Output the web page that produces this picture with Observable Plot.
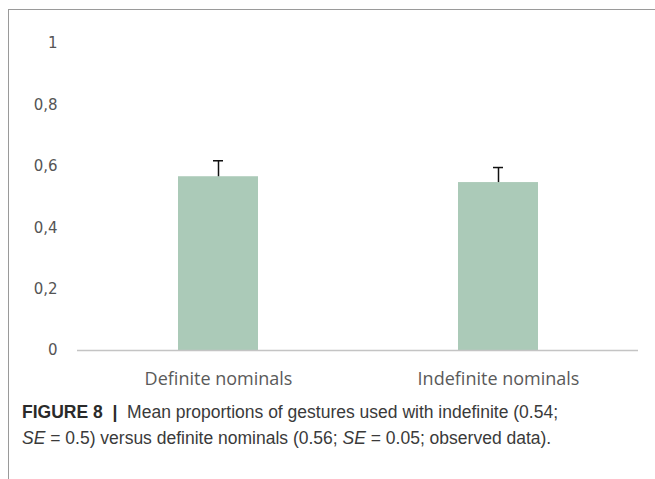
<!DOCTYPE html>
<html>
<head>
<meta charset="utf-8">
<script src="https://cdn.jsdelivr.net/npm/d3@7"></script>
<script src="https://cdn.jsdelivr.net/npm/@observablehq/plot@0.6"></script>
<style>
  html, body { margin: 0; padding: 0; background: #fff; }
  #wrap { position: relative; width: 655px; height: 479px; overflow: hidden; }
  #frame { position: absolute; left: 8px; top: 9px; width: 700px; height: 520px;
           border-top: 1.5px solid #9a9a9a; border-left: 1.5px solid #9a9a9a; }
  #chart { position: absolute; left: 0; top: 0; }
  #caption { position: absolute; left: 22px; top: 399px; width: 630px; white-space: nowrap;
             font-family: "Liberation Sans", Arial, sans-serif; font-size: 17.5px;
             line-height: 26px; color: #3a3a3a; }
  #caption b { color: #2a2a2a; }
</style>
</head>
<body>
<div id="wrap">
  <div id="frame"></div>
  <div id="chart"></div>
  <div id="caption"><b>FIGURE 8</b>&nbsp; <b>|</b>&nbsp; Mean proportions of gestures used with indefinite (0.54;<br><i>SE</i> = 0.5) versus definite nominals (0.56; <i>SE</i> = 0.05; observed data).</div>
</div>
<script>
const categories = ["Definite nominals", "Indefinite nominals"];
const means = [0.566, 0.547];
const errors = [0.052, 0.049];
const yTicks = [0, 0.2, 0.4, 0.6, 0.8, 1];
const yTickLabels = ["0", "0,2", "0,4", "0,6", "0,8", "1"];

const data = categories.map((c, i) => ({category: c, mean: means[i], top: means[i] + errors[i]}));

const chart = Plot.plot({
  width: 655,
  height: 395,
  marginLeft: 77,
  marginRight: 17,
  marginTop: 43,
  marginBottom: 45,
  style: {fontFamily: "'Open Sans', sans-serif", background: "transparent"},
  x: {domain: categories, paddingInner: 0.715, paddingOuter: 0.357, label: null},
  y: {domain: [0, 1], label: null},
  marks: [
    Plot.axisY({ticks: yTicks, tickFormat: d => yTickLabels[yTicks.indexOf(d)], tickSize: 0, tickPadding: 20,
                fontSize: 15, fontFamily: "'DejaVu Sans', sans-serif", color: "#555", label: null}),
    Plot.axisX({tickSize: 0, tickPadding: 22, fontSize: 18, color: "#5a5a5a", label: null}),
    Plot.barY(data, {x: "category", y: "mean", fill: "#abcab8"}),
    Plot.ruleY([0], {stroke: "#c4c4c4", strokeWidth: 1.5}),
    Plot.ruleX(data, {x: "category", y1: "mean", y2: "top", stroke: "#111", strokeWidth: 1.5}),
    Plot.tickY(data, {x: "category", y: "top", stroke: "#111", strokeWidth: 1.5, insetLeft: 35, insetRight: 35})
  ]
});
document.getElementById("chart").appendChild(chart);
</script>
</body>
</html>
